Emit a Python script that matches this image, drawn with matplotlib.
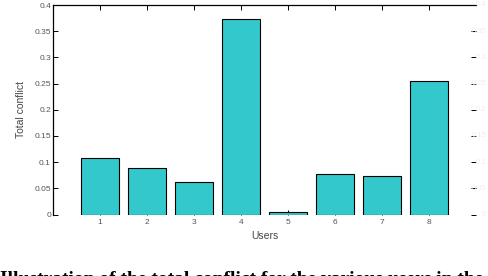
import matplotlib
matplotlib.use("Agg")
import matplotlib.pyplot as plt

users = [1, 2, 3, 4, 5, 6, 7, 8]
conflict = [0.107, 0.088, 0.063, 0.373, 0.005, 0.078, 0.073, 0.255]
yticks = [0, 0.05, 0.1, 0.15, 0.2, 0.25, 0.3, 0.35, 0.4]
ytick_labels = ["0", "0.05", "0.1", "0.15", "0.2", "0.25", "0.3", "0.35", "0.4"]
caption = "Illustration of the total conflict for the various users in the dataset"

fig = plt.figure(figsize=(4.88, 2.76), dpi=100)
ax = fig.add_axes([53/488, 1-214.5/276, (476-53)/488, (214.5-5)/276])

ax.bar(users, conflict, width=0.81, color="#33C8CB", edgecolor="black", linewidth=0.8, zorder=3)
ax.set_xlim(0, 9)
ax.set_ylim(0, 0.4)
ax.set_xticks(users)
ax.set_xticklabels([str(u) for u in users])
ax.set_yticks(yticks)
ax.set_yticklabels(ytick_labels)

for s in ["bottom", "right"]:
    ax.spines[s].set_visible(False)
for s in ["top", "left"]:
    ax.spines[s].set_linewidth(0.9)

ax.tick_params(axis="both", direction="in", length=3.5, width=0.7, labelsize=6,
               labelcolor="#555555", colors="black")
ax.tick_params(axis="x", top=True, bottom=True, pad=3)
ax.tick_params(axis="y", left=True, right=True, labelright=False, pad=1.5)
for lab in ax.get_xticklabels() + ax.get_yticklabels():
    lab.set_fontfamily("Liberation Sans")
    lab.set_color("#555555")

# faint right-side labels
for v, t in zip(yticks, ytick_labels):
    ax.annotate(t, xy=(1.0, v), xycoords=("axes fraction", "data"),
                xytext=(486/488, 0), textcoords=("figure fraction", "offset points"),
                fontsize=5.5, color="#eeeeee", va="center", ha="right",
                family="Liberation Sans", annotation_clip=False)

ax.set_xlabel("Users", fontsize=7.5, color="#444444", family="Liberation Sans", labelpad=4)
ax.set_ylabel("Total conflict", fontsize=7.5, color="#444444", family="Liberation Sans", labelpad=6)

fig.text(0.0, 1-271/276, caption, fontsize=14, fontweight="bold", family="Liberation Serif",
         va="top", ha="left", color="black")

fig.savefig("out.png", dpi=100)
